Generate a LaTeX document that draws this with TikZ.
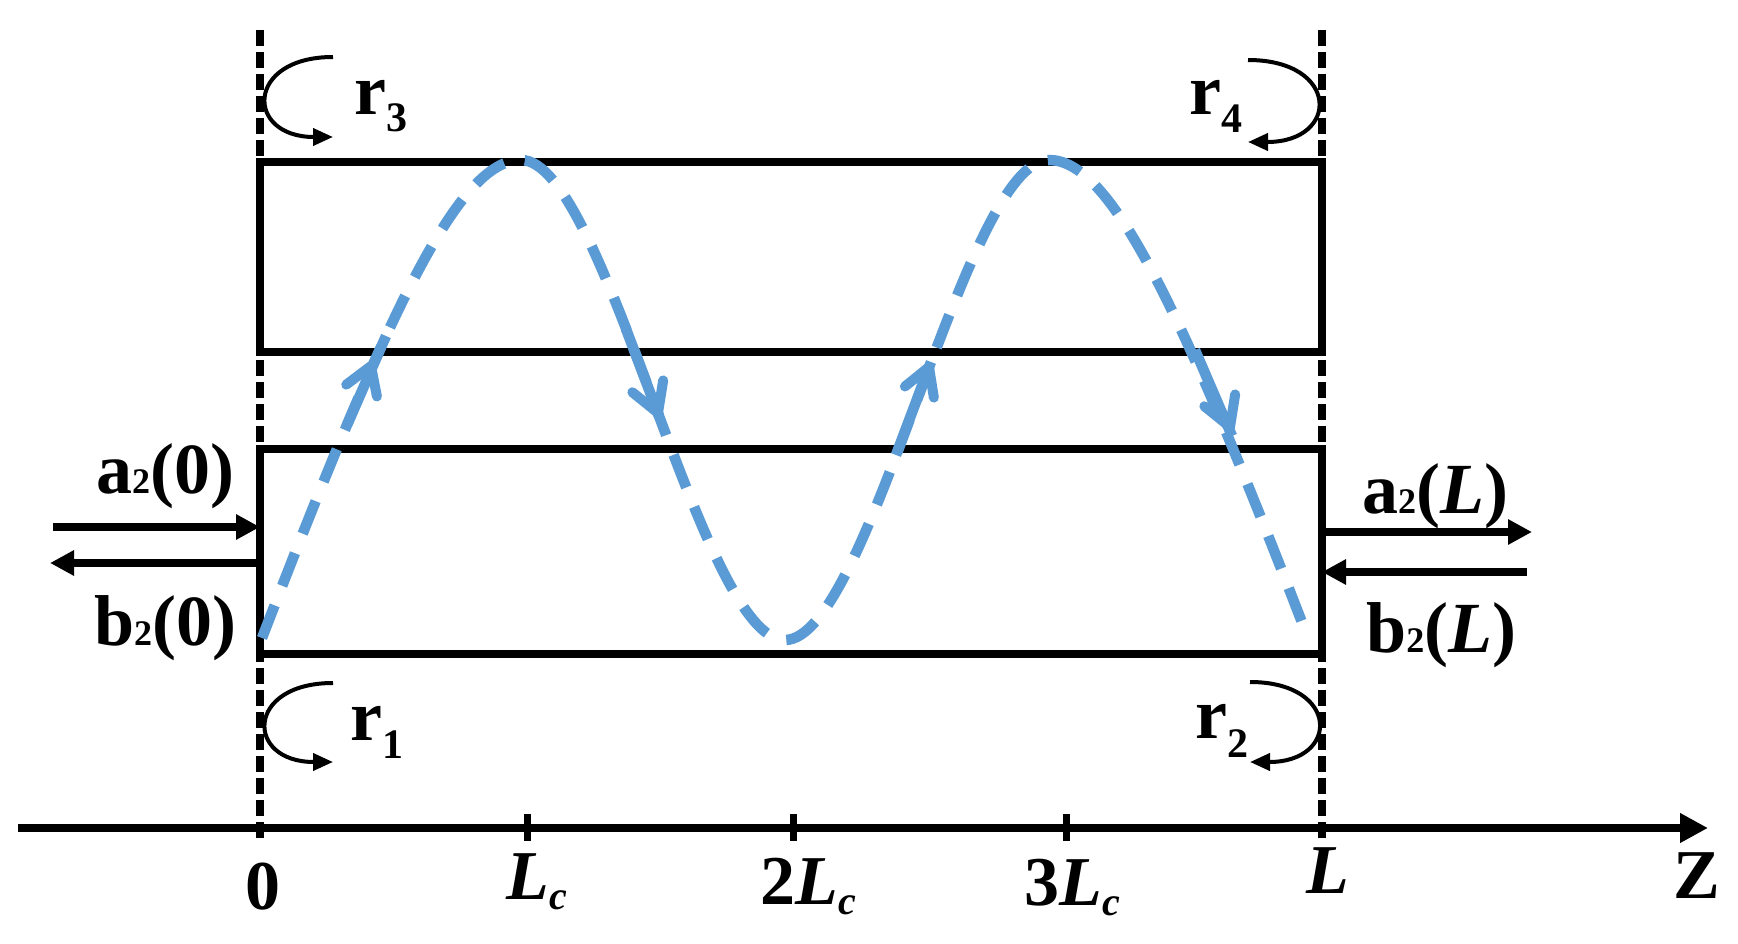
\documentclass[tikz,border=0pt]{standalone}
\usepackage{fontspec}
\setmainfont{Liberation Serif}
\usetikzlibrary{arrows.meta}
\definecolor{wavecol}{HTML}{5B9BD5}
\newcommand{\lsub}[2]{\raisebox{-#1}{\fontsize{42}{42}\selectfont #2}}
\newcommand{\tsub}[1]{{\fontsize{36}{36}\selectfont #1}}
\newcommand{\csub}{\raisebox{-10pt}{\fontsize{40}{40}\selectfont\itshape c}}
\begin{document}
\begin{tikzpicture}[x=1pt,y=-1pt,
  wall/.style={line width=8pt, dash pattern=on 16pt off 6pt},
  guide/.style={draw, line width=8.5pt, inner sep=0pt, outer sep=0pt, anchor=north west, minimum width=1062pt},
  axisline/.style={line width=8.5pt, -{Triangle[length=28pt,width=28pt]}},
  tickmark/.style={line width=7pt},
  port/.style={line width=8pt, -{Triangle[length=24pt,width=24pt]}},
  curl/.style={line width=4pt, -{Triangle[length=20pt,width=17pt]}},
  wavepath/.style={draw=wavecol, line width=10.5pt, dash pattern=on 35pt off 21pt},
  shaft/.style={draw=wavecol, line width=10.5pt},
  barb/.style={draw=wavecol, line width=10pt, line cap=round, line join=round},
  lab/.style={font=\fontsize{72}{80}\selectfont\bfseries, inner sep=0pt},
  axlab/.style={font=\fontsize{70}{80}\selectfont\bfseries, inner sep=0pt, anchor=base}]
\useasboundingbox (0,0) rectangle (1738,944);
\fill[white] (0,0) rectangle (1738,944);

% reference planes
\draw[wall] (260,30) -- (260,840);
\draw[wall] (1322,30) -- (1322,840);

% waveguides
\node[guide, minimum height=190pt] (upper) at (260,162) {};
\node[guide, minimum height=205pt] (lower) at (260,449) {};

% axis
\coordinate (zs) at (18,828);
\coordinate (ze) at (1708,828);
\draw[axisline] (zs) -- (ze);
\foreach \x in {527,793,1066} \draw[tickmark] (\x,814) -- (\x,841);

\node[axlab] (t0) at (263,909) {0};
\node[axlab] (t1) at (537,899) {\itshape L\csub};
\node[axlab] (t2) at (808,904) {2\itshape L\csub};
\node[axlab] (t3) at (1072,905) {3\itshape L\csub};
\node[axlab] (tL) at (1328,893) {\itshape L};
\node[axlab] (tZ) at (1697,898) {Z};

% ports
\coordinate (a0s) at (53,527);
\coordinate (b0e) at (50,563);
\coordinate (aLe) at (1532,532);
\coordinate (bLs) at (1527,572);
\draw[port] (a0s) -- (a0s -| lower.west);
\draw[port] (b0e -| lower.west) -- (b0e);
\draw[port] (aLe -| lower.east) -- (aLe);
\draw[port] (bLs) -- (bLs -| lower.east);

\node[lab, anchor=base west] (a0) at (96,493) {a\tsub{2}(0)};
\node[lab, anchor=base west] (b0) at (94,645) {b\tsub{2}(0)};
\node[lab, anchor=base west] (aL) at (1362,513) {a\tsub{2}(\textit{L})};
\node[lab, anchor=base west] (bL) at (1366,652) {b\tsub{2}(\textit{L})};

% reflection curls
\coordinate (c3s) at (333,57);  \coordinate (c3e) at (333,137);
\coordinate (c1s) at (333,683); \coordinate (c1e) at (333,762);
\coordinate (c4s) at (1248,60); \coordinate (c4e) at (1248,142);
\coordinate (c2s) at (1250,682);\coordinate (c2e) at (1250,762);
\draw[curl] (c3s) .. controls (245,57) and (245,137) .. (c3e);
\draw[curl] (c1s) .. controls (245,683) and (245,762) .. (c1e);
\draw[curl] (c4s) .. controls (1340,60) and (1340,142) .. (c4e);
\draw[curl] (c2s) .. controls (1340,682) and (1340,762) .. (c2e);

\node[lab, anchor=base west] (r3) at (354,115) {r\lsub{17pt}{3}};
\node[lab, anchor=base west] (r4) at (1189,115) {r\lsub{18pt}{4}};
\node[lab, anchor=base west] (r1) at (350,740) {r\lsub{18pt}{1}};
\node[lab, anchor=base west] (r2) at (1195,738) {r\lsub{19pt}{2}};

% coupled wave
\coordinate (w0) at (262,638);
\coordinate (w1) at (521,160);
\coordinate (w2) at (785,640);
\coordinate (w3) at (1049,160);
\coordinate (w4) at (1308,638);
\draw[wavepath] (w0) .. controls (392,300) and (460,160) .. (w1)
  .. controls (606,160) and (700,640) .. (w2)
  .. controls (870,640) and (964,160) .. (w3)
  .. controls (1110,160) and (1178,300) .. (w4);

% arrows on the wave
\coordinate (T1) at (371,366);
\coordinate (T2) at (658,413);
\coordinate (T3) at (929,367);
\coordinate (T4) at (1230,427);
\draw[shaft] (347,425) -- (386,336);
\draw[shaft] (626,329) -- (659,416);
\draw[shaft] (896,455) -- (931,362);
\draw[shaft] (1195,350) -- (1232,436);
\draw[barb] ([shift={(143:31)}]T1) -- (T1) -- ([shift={(79:31)}]T1);
\draw[barb] ([shift={(219:33)}]T2) -- (T2) -- ([shift={(279:33)}]T2);
\draw[barb] ([shift={(141:31)}]T3) -- (T3) -- ([shift={(81:31)}]T3);
\draw[barb] ([shift={(219:33)}]T4) -- (T4) -- ([shift={(279:33)}]T4);
\end{tikzpicture}
\end{document}
